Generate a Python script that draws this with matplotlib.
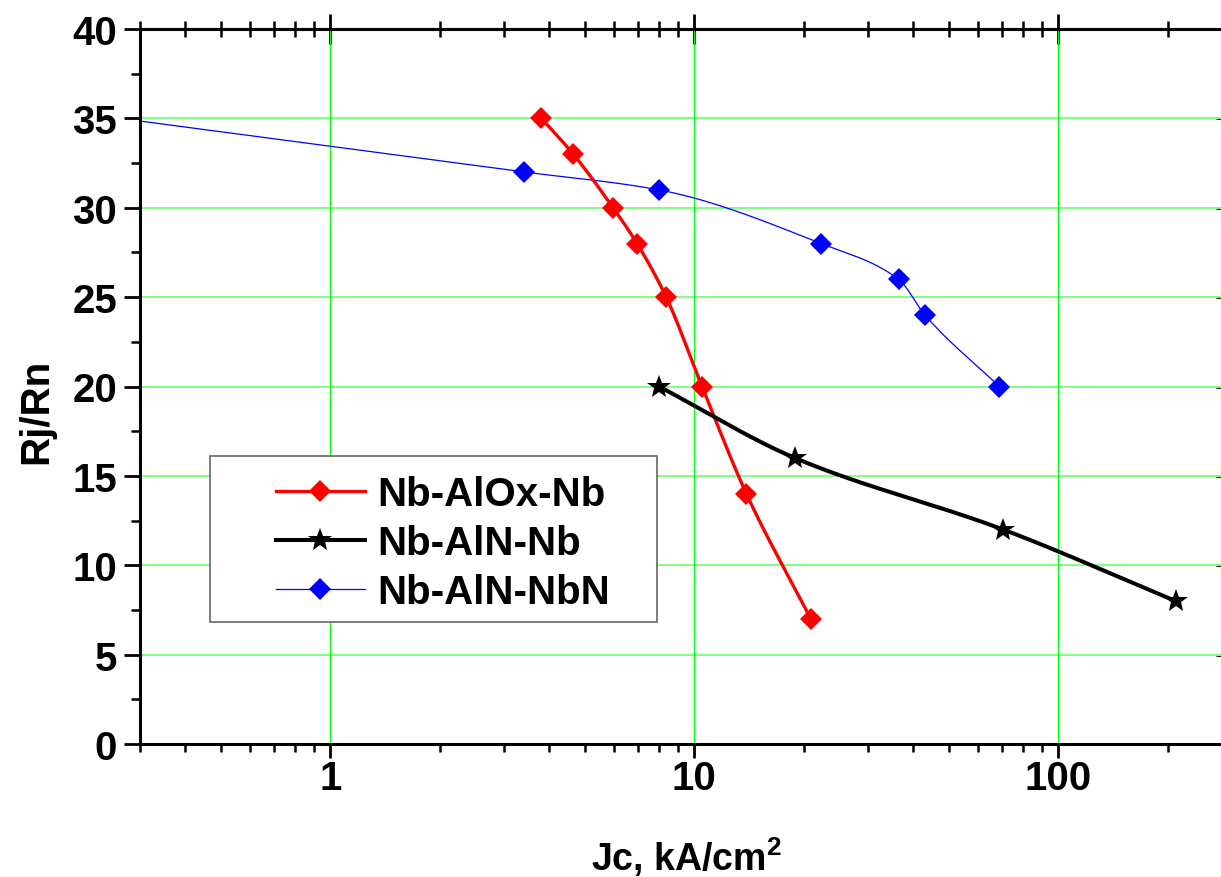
import numpy as np
import matplotlib
matplotlib.use("Agg")
import matplotlib.pyplot as plt
from matplotlib.ticker import LogLocator, FixedLocator, FixedFormatter, MultipleLocator, NullLocator, NullFormatter
from matplotlib.patches import Rectangle

plt.rcParams['font.family'] = ['Liberation Sans', 'DejaVu Sans']
plt.rcParams['font.weight'] = 'bold'
plt.rcParams['mathtext.default'] = 'regular'

# Critical current density (kA/cm^2) vs. Rj/Rn for three junction types
alox_jc = [3.80, 4.65, 5.98, 6.96, 8.37, 10.5, 13.9, 20.9]
alox_q = [35, 33, 30, 28, 25, 20, 14, 7]

aln_jc = [8.0, 18.9, 70.5, 210]
aln_q = [20, 16, 12, 8]

alnnbn_jc = [3.41, 8.0, 22.3, 36.4, 43.0, 68.8]
alnnbn_q = [32, 31, 28, 26, 24, 20]

series_labels = ['Nb-AlOx-Nb', 'Nb-AlN-Nb', 'Nb-AlN-NbN']

x_ticks = [1, 10, 100]
x_tick_labels = ['1', '10', '100']
y_ticks = [0, 5, 10, 15, 20, 25, 30, 35, 40]
x_range = (0.3, 300)
y_range = (0, 40)

DIAMOND_MS = 11.5
STAR_MS = 18


def monotone_curve(xk, yk, xs):
    """Shape-preserving cubic (PCHIP) through the knots, linear beyond the left end."""
    xk = np.asarray(xk, float)
    yk = np.asarray(yk, float)
    xs = np.asarray(xs, float)
    n = len(xk)
    h = np.diff(xk)
    delta = np.diff(yk) / h
    d = np.zeros(n)
    d[0] = delta[0]
    d[-1] = delta[-1]
    for k in range(1, n - 1):
        if delta[k - 1] * delta[k] <= 0:
            d[k] = 0.0
        else:
            w1 = 2 * h[k] + h[k - 1]
            w2 = h[k] + 2 * h[k - 1]
            d[k] = (w1 + w2) / (w1 / delta[k - 1] + w2 / delta[k])
    idx = np.clip(np.searchsorted(xk, xs) - 1, 0, n - 2)
    t = (xs - xk[idx]) / h[idx]
    h00 = 2 * t ** 3 - 3 * t ** 2 + 1
    h10 = t ** 3 - 2 * t ** 2 + t
    h01 = -2 * t ** 3 + 3 * t ** 2
    h11 = t ** 3 - t ** 2
    ys = (h00 * yk[idx] + h10 * h[idx] * d[idx]
          + h01 * yk[idx + 1] + h11 * h[idx] * d[idx + 1])
    left = xs < xk[0]
    ys[left] = yk[0] + d[0] * (xs[left] - xk[0])
    return ys


def smooth_curve(jc, q, start=None):
    lx = np.log10(jc)
    lo = np.log10(start) if start is not None else lx[0]
    xs = np.linspace(lo, lx[-1], 500)
    return 10 ** xs, monotone_curve(lx, q, xs)


fig = plt.figure(figsize=(12.21, 8.78), dpi=100)
ax = fig.add_axes([140 / 1221, 133 / 878, 1092 / 1221, 715 / 878])
ax.set_xscale('log')
ax.set_xlim(*x_range)
ax.set_ylim(*y_range)

# grid
for yv in y_ticks[1:-1]:
    ax.axhline(yv, color='#80ff80', lw=1.4, zorder=1)
for xv in x_ticks:
    ax.axvline(xv, color='#00ff00', lw=0.9, zorder=1)

# curves
bx, by = smooth_curve(alnnbn_jc, alnnbn_q, start=x_range[0])
ax.plot(bx, by, color='#0000ff', lw=0.9, zorder=2)
ax.plot(alnnbn_jc, alnnbn_q, ls='none', marker='D', ms=DIAMOND_MS, color='#0000ff',
        mew=0, zorder=2.1)

rx, ry = smooth_curve(alox_jc, alox_q)
ax.plot(rx, ry, color='#ff0000', lw=2.4, zorder=3)
ax.plot(alox_jc, alox_q, ls='none', marker='D', ms=DIAMOND_MS, color='#ff0000',
        mew=0, zorder=3.1)

kx, ky = smooth_curve(aln_jc, aln_q)
ax.plot(kx, ky, color='black', lw=2.9, zorder=4)
ax.plot(aln_jc, aln_q, ls='none', marker='*', ms=STAR_MS, color='black',
        mew=0, zorder=4.1)

# legend proxies
h_red, = ax.plot([], [], color='#ff0000', lw=2.4, marker='D', ms=DIAMOND_MS, mew=0)
h_blk, = ax.plot([], [], color='black', lw=2.9, marker='*', ms=STAR_MS, mew=0)
h_blu, = ax.plot([], [], color='#0000ff', lw=0.9, marker='D', ms=DIAMOND_MS, mew=0)

# axes styling
for side in ('left', 'bottom', 'top'):
    ax.spines[side].set_linewidth(2.2)
ax.spines['right'].set_visible(False)

ax.xaxis.set_major_locator(FixedLocator(x_ticks))
ax.xaxis.set_major_formatter(FixedFormatter(x_tick_labels))
ax.xaxis.set_minor_locator(LogLocator(base=10, subs=np.arange(2, 10)))
ax.xaxis.set_minor_formatter(NullFormatter())
ax.yaxis.set_major_locator(FixedLocator(y_ticks))
ax.yaxis.set_minor_locator(MultipleLocator(2.5))

ax.tick_params(axis='x', which='major', direction='out', length=10, width=2,
               labelsize=29, pad=1, top=False)
ax.tick_params(axis='x', which='minor', direction='out', length=5.8, width=1.8, top=False)
ax.tick_params(axis='y', which='major', direction='out', length=11.5, width=2,
               labelsize=29, pad=5, right=False)
ax.tick_params(axis='y', which='minor', direction='out', length=6.5, width=1.8, right=False)

secx = ax.secondary_xaxis('top')
secx.xaxis.set_major_locator(FixedLocator(x_ticks))
secx.xaxis.set_minor_locator(LogLocator(base=10, subs=np.arange(2, 10)))
secx.xaxis.set_major_formatter(NullFormatter())
secx.xaxis.set_minor_formatter(NullFormatter())
secx.tick_params(which='major', direction='inout', length=22, width=2)
secx.tick_params(which='minor', direction='inout', length=11.5, width=1.8)
secx.spines['top'].set_linewidth(2.2)

secy = ax.secondary_yaxis('right')
secy.yaxis.set_major_locator(FixedLocator(y_ticks))
secy.yaxis.set_minor_locator(NullLocator())
secy.yaxis.set_major_formatter(NullFormatter())
secy.tick_params(which='major', direction='in', length=11.5, width=2)
secy.spines['right'].set_linewidth(2.2)

ax.set_xlabel(r'Jc, kA/cm$^{2}$', fontsize=27, fontweight='bold')
ax.xaxis.set_label_coords(0.5, -0.126)
ax.set_ylabel('Rj/Rn', fontsize=29, fontweight='bold')
ax.yaxis.set_label_coords(-0.0774, 0.466)

# legend box
ax.add_patch(Rectangle((0.0641, 0.1706), 0.4093, 0.2322, transform=ax.transAxes,
                       facecolor='white', edgecolor='#666666', lw=1.2, zorder=5))
leg = ax.legend([h_red, h_blk, h_blu], series_labels, loc='upper left',
                bbox_to_anchor=(0.1245, 0.3756), frameon=False, borderpad=0,
                borderaxespad=0, handlelength=2.21, handletextpad=0.3,
                labelspacing=0.27, prop={'size': 29, 'weight': 'bold'})
leg.set_zorder(6)

fig.savefig('out.png', dpi=100, facecolor='white')
